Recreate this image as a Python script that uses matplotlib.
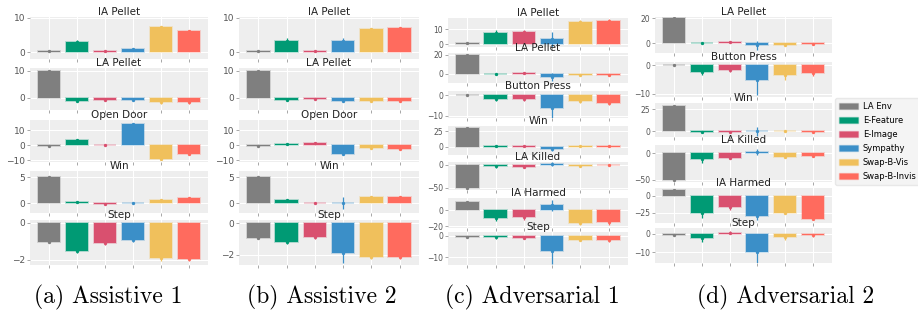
import matplotlib
matplotlib.use("Agg")
import matplotlib.pyplot as plt
from matplotlib.patches import Patch
from matplotlib.colors import to_rgba
import numpy as np

methods = ["LA Env", "E-Feature", "E-Image", "Sympathy", "Swap-B-Vis", "Swap-B-Invis"]
colors = ["#7f7f7f", "#009a74", "#d9506f", "#3b8fc8", "#f0c05c", "#ff6b5e"]

# ---- (a) Assistive 1 ----
a_titles = ["IA Pellet", "LA Pellet", "Open Door", "Win", "Step"]
a_ia_pellet = [0.4, 2.9, 0.3, 1.0, 7.3, 6.2]
a_ia_pellet_err = [0.1, 0.6, 0.2, 0.2, 0.1, 0.3]
a_la_pellet = [10.0, -1.25, -0.75, -0.7, -1.7, -1.7]
a_la_pellet_err = [0.1, 0.5, 0.3, 0.3, 0.5, 0.5]
a_open_door = [-0.5, 3.3, 0.3, 14.0, -8.9, -5.6]
a_open_door_err = [0.2, 0.8, 0.5, 0.5, 1.0, 0.7]
a_win = [5.0, 0.2, -0.15, -0.05, 0.6, 1.0]
a_win_err = [0.05, 0.2, 0.15, 0.1, 0.2, 0.2]
a_step = [-1.02, -1.52, -1.07, -0.93, -1.91, -1.95]
a_step_err = [0.02, 0.13, 0.13, 0.1, 0.14, 0.12]

# ---- (b) Assistive 2 ----
b_titles = ["IA Pellet", "LA Pellet", "Open Door", "Win", "Step"]
b_ia_pellet = [0.4, 3.4, 0.4, 3.2, 6.8, 7.0]
b_ia_pellet_err = [0.1, 0.7, 0.2, 0.9, 0.1, 0.2]
b_la_pellet = [9.8, -0.87, -0.5, -1.36, -1.3, -1.3]
b_la_pellet_err = [0.1, 0.45, 0.4, 0.35, 0.3, 0.4]
b_open_door = [-0.5, 0.7, 1.3, -6.0, -1.6, -2.2]
b_open_door_err = [0.2, 0.8, 0.7, 0.6, 0.6, 0.8]
b_win = [5.0, 0.55, 0.0, 0.0, 1.2, 1.1]
b_win_err = [0.05, 0.25, 0.1, 1.2, 0.2, 0.3]
b_step = [-0.96, -1.17, -0.87, -1.91, -2.17, -2.13]
b_step_err = [0.02, 0.18, 0.13, 0.64, 0.13, 0.12]

# ---- (c) Adversarial 1 ----
c_titles = ["IA Pellet", "LA Pellet", "Button Press", "Win", "LA Killed", "IA Harmed", "Step"]
c_ia_pellet = [0.7, 7.7, 7.9, 3.2, 15.0, 15.6]
c_ia_pellet_err = [0.1, 1.6, 1.6, 5.0, 1.0, 1.1]
c_la_pellet = [20.0, -0.5, 0.3, -3.6, -1.5, -1.3]
c_la_pellet_err = [0.2, 0.6, 0.5, 4.5, 0.9, 0.9]
c_button_press = [0.3, -2.1, -2.1, -6.1, -3.0, -3.6]
c_button_press_err = [0.1, 0.9, 0.9, 5.4, 1.0, 1.0]
c_win = [31.5, 1.0, 1.0, -4.0, 1.5, 1.0]
c_win_err = [0.3, 1.0, 1.0, 3.5, 1.0, 1.0]
c_la_killed = [-50.0, -3.5, -5.0, 0.5, -2.5, -2.0]
c_la_killed_err = [0.3, 3.5, 3.0, 4.5, 1.5, 2.0]
c_ia_harmed = [9.6, -10.4, -8.8, 5.6, -16.4, -15.2]
c_ia_harmed_err = [0.3, 3.6, 3.2, 7.0, 2.6, 3.8]
c_step = [-0.7, -0.8, -1.0, -7.0, -2.0, -2.1]
c_step_err = [0.1, 0.5, 0.7, 6.0, 0.6, 0.7]

# ---- (d) Adversarial 2 ----
d_titles = ["LA Pellet", "Button Press", "Win", "LA Killed", "IA Harmed", "Step"]
d_la_pellet = [20.0, 0.1, 0.7, -1.7, -1.5, -0.4]
d_la_pellet_err = [0.2, 0.3, 0.8, 3.5, 1.0, 0.6]
d_button_press = [0.3, -2.35, -1.5, -5.3, -3.3, -2.7]
d_button_press_err = [0.1, 1.0, 1.0, 5.3, 1.7, 1.2]
d_win = [29.0, -0.5, -0.5, -0.3, 0.0, -0.4]
d_win_err = [0.3, 1.0, 1.0, 5.0, 0.8, 0.6]
d_la_killed = [-50.0, -11.5, -8.3, 2.5, -6.4, -4.5]
d_la_killed_err = [0.3, 6.5, 2.7, 5.5, 2.6, 1.5]
d_ia_harmed = [8.7, -25.5, -16.8, -28.9, -25.5, -33.7]
d_ia_harmed_err = [0.5, 6.5, 4.2, 6.1, 1.5, 1.3]
d_step = [-0.8, -2.4, 0.8, -10.2, -1.8, -0.8]
d_step_err = [0.1, 2.1, 0.7, 5.8, 1.4, 1.0]

captions = ["(a) Assistive 1", "(b) Assistive 2", "(c) Adversarial 1", "(d) Adversarial 2"]

# ---------------- layout / axis settings ----------------
W, H = 918, 310
columns = [
    dict(x=(30, 208), rows=[(17, 59), (68, 110), (120, 162), (171, 213), (220, 265)],
         titles=a_titles,
         data=[(a_ia_pellet, a_ia_pellet_err), (a_la_pellet, a_la_pellet_err),
               (a_open_door, a_open_door_err), (a_win, a_win_err), (a_step, a_step_err)],
         ylims=[(-2, 10.2), (-4.6, 11), (-11.1, 16.7), (-1.9, 6.2), (-2.27, 0.14)],
         yticks=[[0, 10], [0, 10], [-10, 0, 10], [0, 5], [-2, 0]], fs=6.5, cap=108),
    dict(x=(239, 419), rows=[(17, 59), (68, 110), (120, 162), (171, 213), (220, 265)],
         titles=b_titles,
         data=[(b_ia_pellet, b_ia_pellet_err), (b_la_pellet, b_la_pellet_err),
               (b_open_door, b_open_door_err), (b_win, b_win_err), (b_step, b_step_err)],
         ylims=[(-1.9, 10.2), (-4.6, 11), (-11.1, 16.7), (-1.9, 6.2), (-2.66, 0.2)],
         yticks=[[0, 10], [0, 10], [-10, 0, 10], [0, 5], [-2, 0]], fs=6.5, cap=322),
    dict(x=(448, 628), rows=[(18, 47), (53, 83), (91, 118), (126, 155), (162, 190), (198, 228), (232, 265)],
         titles=c_titles,
         data=[(c_ia_pellet, c_ia_pellet_err), (c_la_pellet, c_la_pellet_err),
               (c_button_press, c_button_press_err), (c_win, c_win_err),
               (c_la_killed, c_la_killed_err), (c_ia_harmed, c_ia_harmed_err), (c_step, c_step_err)],
         ylims=[(-1.8, 17.5), (-10, 22), (-11.1, 2), (-14, 34), (-55, 5.4), (-22.3, 14.9), (-13.5, 1.7)],
         yticks=[[0, 10], [0, 20], [-10, 0], [0, 25], [-50, 0], [-20, 0], [-10, 0]], fs=5.5, cap=532),
    dict(x=(655, 832), rows=[(17, 53), (62, 97), (103, 137), (145, 182), (188, 223), (228, 263)],
         titles=d_titles,
         data=[(d_la_pellet, d_la_pellet_err), (d_button_press, d_button_press_err),
               (d_win, d_win_err), (d_la_killed, d_la_killed_err),
               (d_ia_harmed, d_ia_harmed_err), (d_step, d_step_err)],
         ylims=[(-7.7, 21), (-11.2, 1.2), (-6.6, 32), (-54.6, 16), (-39.5, 11), (-16, 3.3)],
         yticks=[[0, 20], [-10, 0], [0, 25], [-50, 0], [-25, 0], [-10, 0]], fs=5.5, cap=786),
]

fig = plt.figure(figsize=(W / 100, H / 100), dpi=100)
x = np.arange(len(methods))
edge_cols = [to_rgba(c, 0.3) for c in colors]

for ci, col in enumerate(columns):
    x0, x1 = col["x"]
    for (y0, y1), title, (vals, errs), ylim, yt in zip(col["rows"], col["titles"], col["data"],
                                                       col["ylims"], col["yticks"]):
        ax = fig.add_axes([x0 / W, 1 - y1 / H, (x1 - x0) / W, (y1 - y0) / H])
        ax.set_facecolor("#eeeeee")
        ax.set_axisbelow(True)
        ax.grid(True, color="white", linewidth=0.8)
        ax.bar(x, vals, width=0.8, color=colors, edgecolor=edge_cols, linewidth=1.3, zorder=2)
        for xi, v, e, c in zip(x, vals, errs, colors):
            ax.errorbar(xi, v, yerr=e, fmt="o", ms=1.4, color=c, elinewidth=0.9,
                        capsize=0, zorder=3)
        ax.set_ylim(*ylim)
        ax.set_yticks(yt)
        ax.set_xticks(x)
        ax.set_xticklabels([])
        for s in ax.spines.values():
            s.set_visible(False)
        ax.tick_params(axis="both", length=2, width=0.6, color="#999999",
                       labelsize=col["fs"], labelcolor="#555555", pad=1.5)
        ax.set_title(title, fontsize=7.5, pad=1.5, color="#222222")
    fig.text(col["cap"] / W, 1 - 297 / H, captions[ci], family="cmr10",
             fontsize=17, ha="center", va="center")

handles = [Patch(facecolor=c, edgecolor=to_rgba(c, 0.3)) for c in colors]
fig.legend(handles, methods, loc="upper left", bbox_to_anchor=(835 / W, 1 - 98 / H),
           fontsize=6, frameon=True, facecolor="#f4f4f4", edgecolor="#e8e8e8",
           handlelength=2.3, handleheight=0.7, labelspacing=0.6, borderaxespad=0,
           borderpad=0.45, handletextpad=0.6, framealpha=1)

fig.savefig("out.png", dpi=100)
